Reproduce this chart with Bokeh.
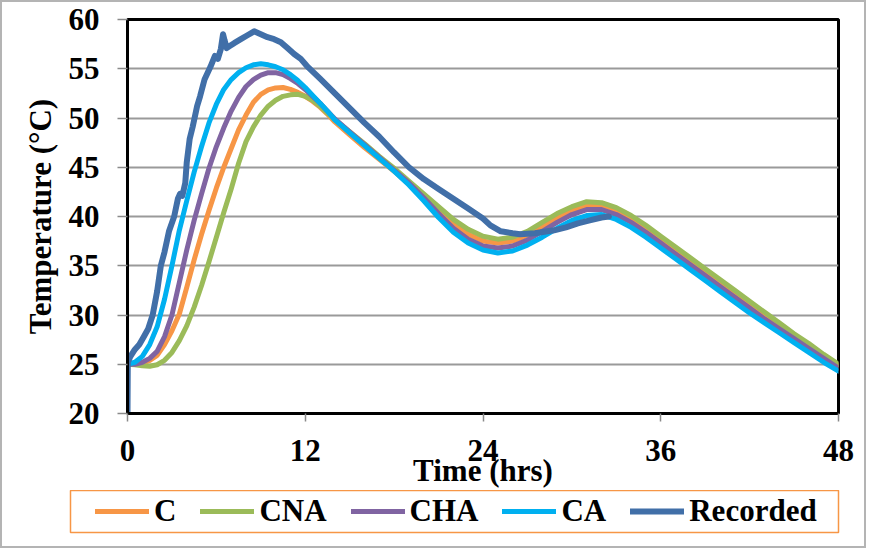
from bokeh.plotting import figure
from bokeh.layouts import column
from bokeh.models import Range1d, FixedTicker, Legend, LegendItem
from bokeh.embed import file_html
from bokeh.resources import INLINE

# ---------------- data ----------------
series_names = ["C", "CNA", "CHA", "CA", "Recorded"]
series_colors = ["#F79646", "#9BBB59", "#8064A2", "#00B0F0", "#416FA8"]

x_ticks = [0, 12, 24, 36, 48]
y_ticks = [20, 25, 30, 35, 40, 45, 50, 55, 60]

time_model = [0, 0.5, 1, 1.5, 2, 2.5, 3, 3.5, 4, 4.5, 5, 5.5, 6, 6.5, 7, 7.5,
              8, 8.5, 9, 9.5, 10, 10.5, 11, 11.5, 12, 12.5, 13, 13.5, 14,
              15, 16, 17, 18, 19, 20, 21, 22, 23, 24, 25, 26, 27, 28, 29, 30,
              31, 32, 33, 34, 35, 36, 37, 38, 39, 40, 41, 42, 43, 44, 45, 46,
              47, 48]

c_vals = [25.0, 25.0, 25.1, 25.4, 25.9, 27.0, 28.4, 30.1, 32.8, 35.6, 38.2,
          40.6, 42.9, 45.0, 46.9, 48.8, 50.3, 51.6, 52.4, 52.85, 53.05, 53.1,
          52.9, 52.6, 52.2, 51.7, 51.1, 50.4, 49.6,
          48.3, 47.0, 45.8, 44.6, 43.3, 41.9, 40.5, 39.2, 38.2, 37.5, 37.3,
          37.5, 38.1, 39.0, 39.9, 40.6, 41.1, 41.1, 40.6, 39.8, 38.8, 37.7,
          36.6, 35.5, 34.4, 33.3, 32.2, 31.1, 30.0, 28.9, 27.9, 26.9, 25.9, 24.9]

cna_vals = [25.0, 24.95, 24.85, 24.8, 24.95, 25.4, 26.2, 27.4, 28.9, 30.8, 33.0,
            35.4, 37.9, 40.4, 42.8, 45.4, 47.6, 49.1, 50.3, 51.2, 51.8, 52.2,
            52.35, 52.4, 52.2, 51.8, 51.2, 50.5, 49.8,
            48.6, 47.4, 46.1, 44.9, 43.6, 42.3, 41.0, 39.7, 38.7, 38.0, 37.7,
            37.9, 38.5, 39.4, 40.3, 41.0, 41.5, 41.4, 40.9, 40.1, 39.1, 38.0,
            36.9, 35.8, 34.7, 33.6, 32.5, 31.4, 30.3, 29.2, 28.1, 27.1, 26.0, 25.0]

cha_vals = [25.0, 25.0, 25.2, 25.6, 26.3, 27.8, 30.0, 33.3, 36.6, 39.6, 42.3,
            44.9, 47.1, 49.0, 50.7, 52.1, 53.2, 53.9, 54.35, 54.6, 54.6, 54.4,
            54.0, 53.5, 52.9, 52.2, 51.5, 50.7, 49.9,
            48.6, 47.3, 46.0, 44.7, 43.4, 41.9, 40.3, 38.8, 37.7, 37.0, 36.8,
            37.0, 37.6, 38.5, 39.4, 40.2, 40.7, 40.7, 40.2, 39.4, 38.4, 37.3,
            36.2, 35.1, 34.0, 32.9, 31.8, 30.7, 29.6, 28.6, 27.6, 26.6, 25.6, 24.6]

ca_vals = [25.0, 25.2, 25.8, 27.0, 28.8, 31.6, 35.0, 38.6, 41.6, 44.5, 47.1,
           49.5, 51.4, 52.9, 53.9, 54.6, 55.1, 55.4, 55.5, 55.4, 55.2, 54.9,
           54.4, 53.8, 53.1, 52.3, 51.5, 50.7, 49.8,
           48.5, 47.2, 45.9, 44.6, 43.2, 41.6, 39.9, 38.4, 37.3, 36.6, 36.3,
           36.5, 37.1, 37.9, 38.8, 39.6, 40.1, 40.2, 39.7, 38.9, 37.9, 36.8,
           35.7, 34.6, 33.5, 32.4, 31.3, 30.2, 29.2, 28.2, 27.2, 26.2, 25.2, 24.3]

time_recorded = [0, 0.02, 0.2, 0.5, 0.8, 1.1, 1.4, 1.7, 2.0, 2.25, 2.5, 2.8,
                 3.15, 3.4, 3.55, 3.7, 3.9, 4.0, 4.2, 4.4, 4.7, 4.9, 5.2, 5.6,
                 5.9, 6.1, 6.3, 6.45, 6.55, 6.7, 6.9, 7.2, 7.65, 8.1, 8.55, 9.0,
                 9.45, 9.9, 10.35, 10.8, 11.25, 11.7, 12.1, 13, 14, 15, 16, 17,
                 18, 19, 20, 21, 22, 23, 23.5, 24, 24.5, 25.2, 26, 26.5, 27.5,
                 28.8, 29.6, 30.4, 31.2, 32.0, 32.5]

recorded_vals = [20.0, 25.2, 25.8, 26.5, 27.0, 27.8, 28.6, 30.0, 32.4, 35.0,
                 36.4, 38.5, 40.0, 41.8, 42.3, 42.1, 43.4, 45.5, 47.9, 49.1,
                 51.2, 52.2, 53.9, 55.2, 56.3, 56.0, 57.0, 58.5, 57.9, 57.1,
                 57.3, 57.6, 58.0, 58.4, 58.8, 58.5, 58.2, 58.0, 57.7, 57.1,
                 56.5, 56.0, 55.3, 54.0, 52.5, 51.0, 49.5, 48.1, 46.5, 45.0,
                 43.8, 42.8, 41.8, 40.8, 40.3, 39.8, 39.1, 38.5, 38.3, 38.2,
                 38.3, 38.6, 38.9, 39.3, 39.6, 39.9, 40.0]

# ---------------- main figure ----------------
FONT = "Liberation Serif"
FS = "31px"

p = figure(width=862, height=488, output_backend="svg", toolbar_location=None,
           x_range=Range1d(0, 48), y_range=Range1d(20, 60),
           min_border_left=125, min_border_right=26, min_border_top=17,
           min_border_bottom=76)
p.frame_align = False
p.background_fill_color = "white"
p.border_fill_color = "white"
p.outline_line_color = "black"
p.outline_line_width = 3

series = [
    (time_model, c_vals, 5),
    (time_model, cna_vals, 5),
    (time_model, cha_vals, 5),
    (time_model, ca_vals, 5),
    (time_recorded, recorded_vals, 6),
]
for (xs, ys, lw), color in zip(series, series_colors):
    p.line(xs, ys, line_color=color, line_width=lw,
           line_cap="round", line_join="round")

xa = p.xaxis[0]
xa.ticker = FixedTicker(ticks=x_ticks)
xa.axis_label = "Time (hrs)"
xa.axis_label_standoff = -11
ya = p.yaxis[0]
ya.ticker = FixedTicker(ticks=y_ticks)
ya.axis_label = "Temperature (°C)"
ya.axis_label_standoff = 8

for ax in (xa, ya):
    ax.axis_label_text_font = FONT
    ax.axis_label_text_font_style = "bold"
    ax.axis_label_text_font_size = FS
    ax.axis_label_text_color = "black"
    ax.major_label_text_font = FONT
    ax.major_label_text_font_style = "bold"
    ax.major_label_text_font_size = FS
    ax.major_label_text_color = "black"
    ax.axis_line_color = "black"
    ax.axis_line_width = 3
    ax.major_tick_line_color = "#8a8a8a"
    ax.major_tick_line_width = 1.5
    ax.major_tick_in = 0
    ax.minor_tick_line_color = None

xa.major_tick_out = 8
xa.major_label_standoff = 18
ya.major_tick_out = 10
ya.major_label_standoff = 18

p.xgrid.visible = False
p.ygrid.grid_line_color = "#9a9a9a"
p.ygrid.grid_line_width = 2

# ---------------- legend strip ----------------
lf = figure(width=862, height=56, output_backend="svg", toolbar_location=None,
            x_axis_location=None, y_axis_location=None,
            x_range=Range1d(100, 101), y_range=Range1d(100, 101),
            min_border_left=68, min_border_right=26, min_border_top=0,
            min_border_bottom=14)
lf.frame_align = False
lf.xgrid.visible = False
lf.ygrid.visible = False
lf.background_fill_color = "white"
lf.border_fill_color = "white"
lf.outline_line_color = "#F79646"
lf.outline_line_width = 1.5

items = []
for (xs, ys, lw), color, name in zip(series, series_colors, series_names):
    # legend swatch renderer (its points lie outside this strip's ranges)
    r = lf.line(xs[:2], ys[:2], line_color=color, line_width=lw,
                line_cap="round", line_join="round")
    items.append(LegendItem(label=name, renderers=[r]))

legend = Legend(
    items=items, orientation="horizontal", location="left", margin=22,
    glyph_width=54, glyph_height=20, label_standoff=5, spacing=24, padding=3,
    border_line_alpha=0, background_fill_alpha=0,
    label_text_font=FONT, label_text_font_style="bold", label_text_font_size=FS,
    label_text_color="black")
lf.add_layout(legend, "center")

layout = column(p, lf, spacing=0)
layout.styles = {"border": "2px solid #b4b4b4"}
open("out.html", "w").write(file_html(layout, INLINE))
